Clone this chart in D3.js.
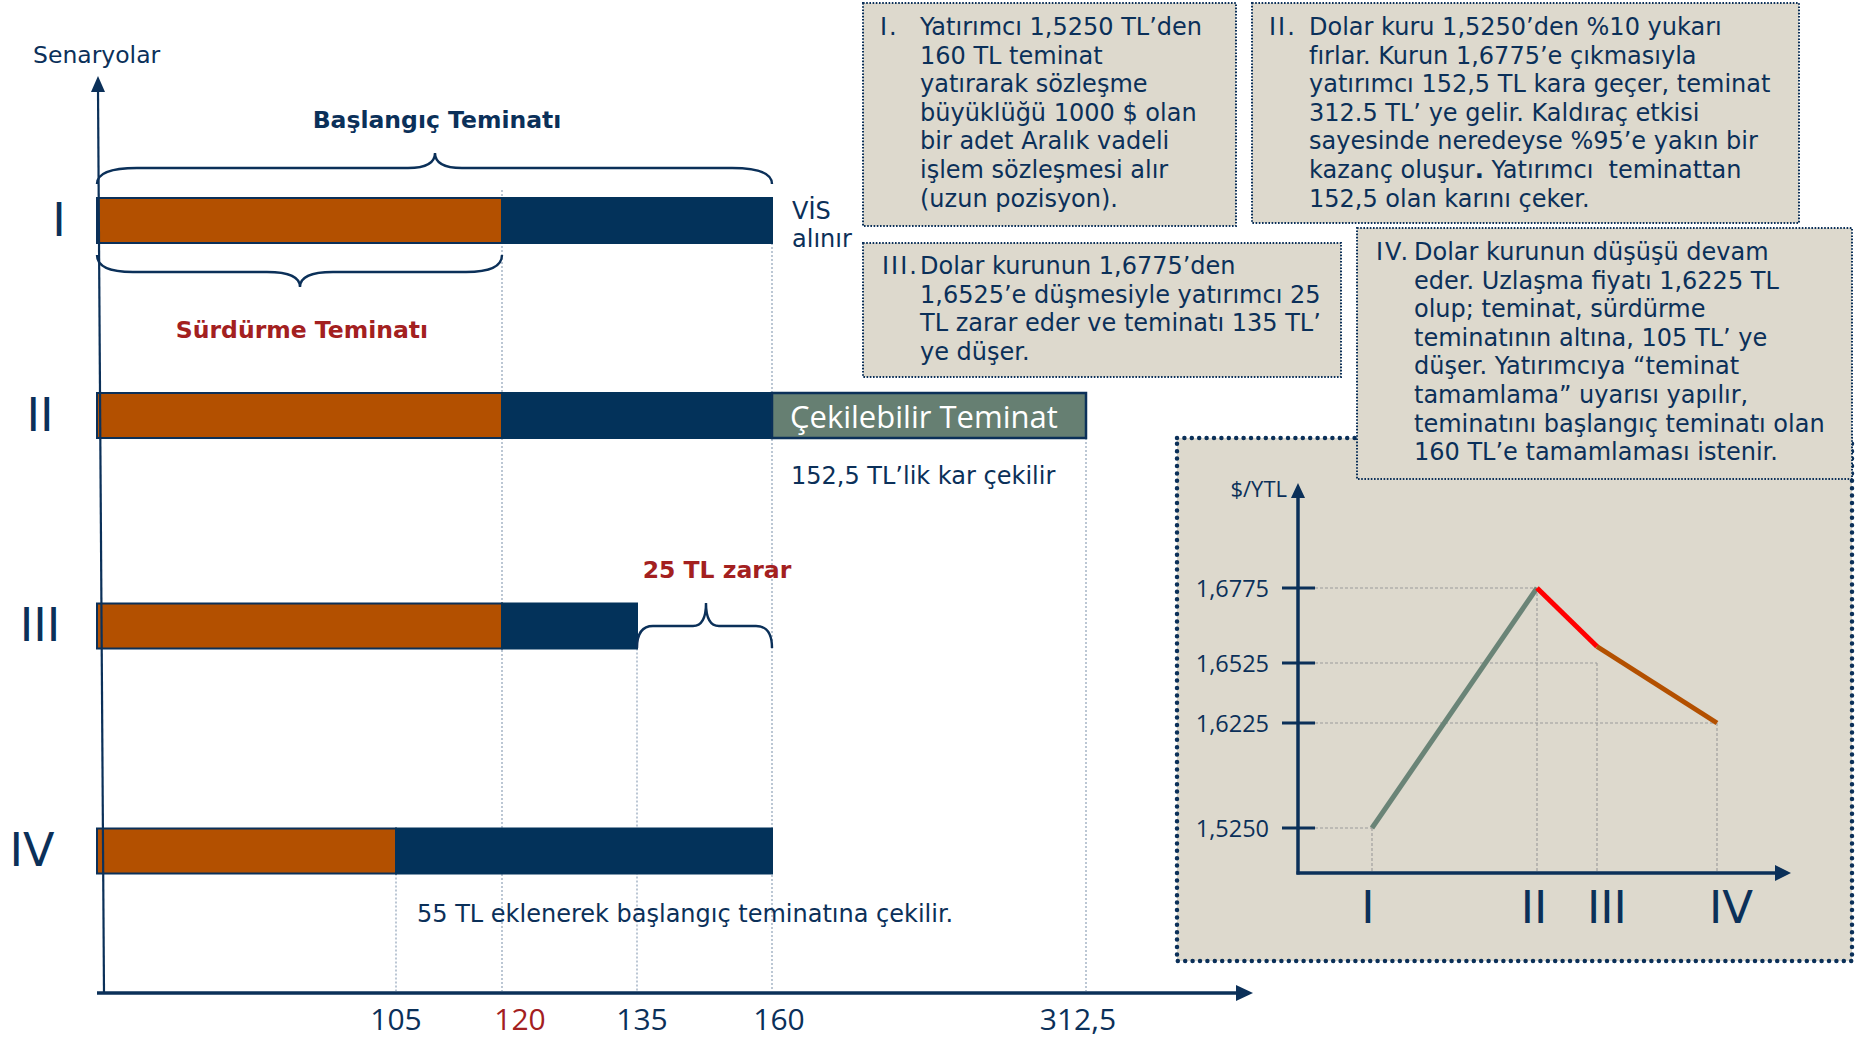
<!DOCTYPE html>
<html><head><meta charset="utf-8">
<script src="https://cdn.jsdelivr.net/npm/d3@7"></script>
<style>
html,body{margin:0;padding:0;background:#fff;}
svg{display:block;}
text{white-space:pre;}
</style></head><body>
<svg id="c" width="1860" height="1040"></svg>
<script>
// ================= DATA =================
// Main chart: margin scenarios (TL)
const scenarios = ["I", "II", "III", "IV"];
const surdurmeEnd = [120, 120, 120, 105];        // orange part (maintenance margin)
const teminatEnd = [160, 160, 135, 160];         // navy part ends here (account balance)
const cekilebilirEnd = [null, 312.5, null, null]; // withdrawable margin part
const xTicks = [105, 120, 135, 160, 312.5];
const xTickLabels = ["105", "120", "135", "160", "312,5"];
const baslangicRange = [0, 160];
const surdurmeRange = [0, 120];
const zararRange = [135, 160];

// Inset chart: $/YTL rate by scenario
const rateLabels = ["I", "II", "III", "IV"];
const rateValues = [1.5250, 1.6775, 1.6580, 1.6225];
const rateGuideValues = [1.5250, 1.6775, 1.6525, 1.6225];
const rateTicks = [1.5250, 1.6225, 1.6525, 1.6775];
const rateTickLabels = ["1,5250", "1,6225", "1,6525", "1,6775"];

// Text boxes
const box1Lines = ["Yatırımcı 1,5250 TL’den", "160 TL teminat", "yatırarak sözleşme", "büyüklüğü 1000 $ olan", "bir adet Aralık vadeli", "işlem sözleşmesi alır", "(uzun pozisyon)."];
const box2Lines = ["Dolar kuru 1,5250’den %10 yukarı", "fırlar. Kurun 1,6775’e çıkmasıyla", "yatırımcı 152,5 TL kara geçer, teminat", "312.5 TL’ ye gelir. Kaldıraç etkisi", "sayesinde neredeyse %95’e yakın bir", "kazanç oluşur*.* Yatırımcı  teminattan", "152,5 olan karını çeker."];
const box3Lines = ["Dolar kurunun 1,6775’den", "1,6525’e düşmesiyle yatırımcı 25", "TL zarar eder ve teminatı 135 TL’", "ye düşer."];
const box4Lines = ["Dolar kurunun düşüşü devam", "eder. Uzlaşma fiyatı 1,6225 TL", "olup; teminat, sürdürme", "teminatının altına, 105 TL’ ye", "düşer. Yatırımcıya “teminat", "tamamlama” uyarısı yapılır,", "teminatını başlangıç teminatı olan", "160 TL’e tamamlaması istenir."];

// ================= LAYOUT / STYLE =================
const NAVY = "#0B3059", BARNAVY = "#03325A", ORANGE = "#B35000", GREEN = "#667F72",
      DARKRED = "#A3201F", BEIGE = "#DDD9CD", GUIDE = "#8FA2B8";
const VFONT = "'DejaVu Sans', Verdana, sans-serif";
const CFONT = "'Open Sans', 'Noto Sans', sans-serif";

const svg = d3.select("#c");

const x = d3.scaleLinear().domain([0, ...xTicks]).range([97, 396, 502, 637, 772, 1086]);
const yC = d3.scaleOrdinal().domain(scenarios).range([220.5, 415.5, 626, 851]);
const barH = 45;
const scenLabelX = {I: 59, II: 40, III: 40, IV: 32};
const tickDx = [0, 18, 5, 7, -8];
const guideStart = [
  yC("IV") + barH / 2, 190, yC("III") + barH / 2, yC("I") + barH / 2, yC("II") + barH / 2
];
const axisY = 993;

// ---------- main guides ----------
const gMain = svg.append("g");
gMain.selectAll("line.guide").data(xTicks).join("line")
  .attr("x1", d => x(d)).attr("x2", d => x(d))
  .attr("y1", (d, i) => guideStart[i]).attr("y2", axisY - 2)
  .attr("stroke", GUIDE).attr("stroke-width", 1.2).attr("stroke-dasharray", "2 2");

// ---------- bars ----------
const bars = scenarios.map((s, i) => ({s, a: surdurmeEnd[i], b: teminatEnd[i], c: cekilebilirEnd[i]}));
const barG = gMain.selectAll("g.bar").data(bars).join("g");
barG.append("rect")
  .attr("x", d => x(0)).attr("y", d => yC(d.s) - barH / 2)
  .attr("width", d => x(d.a) - x(0)).attr("height", barH)
  .attr("fill", ORANGE).attr("stroke", NAVY).attr("stroke-width", 2);
barG.append("rect")
  .attr("x", d => x(d.a)).attr("y", d => yC(d.s) - barH / 2)
  .attr("width", d => x(d.b) - x(d.a)).attr("height", barH)
  .attr("fill", BARNAVY).attr("stroke", BARNAVY).attr("stroke-width", 2);
barG.filter(d => d.c != null).append("rect")
  .attr("x", d => x(d.b)).attr("y", d => yC(d.s) - barH / 2)
  .attr("width", d => x(d.c) - x(d.b)).attr("height", barH)
  .attr("fill", GREEN).attr("stroke", NAVY).attr("stroke-width", 2.5);
barG.filter(d => d.c != null).append("text")
  .attr("x", d => x(d.b) + 18).attr("y", d => yC(d.s) + 12)
  .attr("font-family", CFONT).attr("font-size", 31).attr("fill", "#fff")
  .text("Çekilebilir Teminat");

// ---------- main axes ----------
gMain.append("line").attr("x1", 98).attr("y1", 90).attr("x2", 104).attr("y2", axisY)
  .attr("stroke", NAVY).attr("stroke-width", 2.2);
gMain.append("path").attr("d", "M91,92 L98,76 L105,92 Z").attr("fill", NAVY);
gMain.append("line").attr("x1", x(0)).attr("y1", axisY).attr("x2", 1238).attr("y2", axisY)
  .attr("stroke", NAVY).attr("stroke-width", 3.5);
gMain.append("path").attr("d", `M1236,${axisY - 8} L1253,${axisY} L1236,${axisY + 8} Z`).attr("fill", NAVY);

gMain.selectAll("text.tick").data(xTicks).join("text")
  .attr("x", (d, i) => x(d) + tickDx[i]).attr("y", 1030)
  .attr("text-anchor", "middle").attr("font-family", CFONT).attr("font-size", 30)
  .attr("fill", (d, i) => d === 120 ? DARKRED : NAVY)
  .text((d, i) => xTickLabels[i]);

gMain.selectAll("text.scen").data(scenarios).join("text")
  .attr("x", d => scenLabelX[d]).attr("y", d => yC(d) + 15)
  .attr("text-anchor", "middle").attr("font-family", VFONT).attr("font-size", 46)
  .attr("fill", NAVY).text(d => d);

gMain.append("text").attr("x", 33).attr("y", 63).attr("font-family", VFONT)
  .attr("font-size", 23.5).attr("fill", NAVY).text("Senaryolar");

// ---------- braces ----------
function brace(x1, x2, yEnd, yLine, yTip, xTip, r, rt) {
  return `M${x1},${yEnd} Q${x1},${yLine} ${x1 + r},${yLine} L${xTip - rt},${yLine} ` +
         `Q${xTip},${yLine} ${xTip},${yTip} Q${xTip},${yLine} ${xTip + rt},${yLine} ` +
         `L${x2 - r},${yLine} Q${x2},${yLine} ${x2},${yEnd}`;
}
const braceStyle = sel => sel.attr("fill", "none").attr("stroke", NAVY).attr("stroke-width", 2.4);
gMain.append("path").attr("d", brace(x(baslangicRange[0]), x(baslangicRange[1]), 184, 168, 153, 435, 40, 27)).call(braceStyle);
gMain.append("path").attr("d", brace(x(surdurmeRange[0]), x(surdurmeRange[1]), 255, 272, 287, 300, 36, 33)).call(braceStyle);
gMain.append("path").attr("d", brace(x(zararRange[0]), x(zararRange[1]), 648, 626, 603, 706, 16, 13)).call(braceStyle);

gMain.append("text").attr("x", 437).attr("y", 128).attr("text-anchor", "middle")
  .attr("font-family", VFONT).attr("font-weight", "bold").attr("font-size", 23.5)
  .attr("fill", NAVY).text("Başlangıç Teminatı");
gMain.append("text").attr("x", 302).attr("y", 338).attr("text-anchor", "middle")
  .attr("font-family", VFONT).attr("font-weight", "bold").attr("font-size", 23.5)
  .attr("fill", DARKRED).text("Sürdürme Teminatı");
gMain.append("text").attr("x", 717).attr("y", 578).attr("text-anchor", "middle")
  .attr("font-family", VFONT).attr("font-weight", "bold").attr("font-size", 23.5)
  .attr("fill", DARKRED).text("25 TL zarar");

const plain = (t, px, py) => gMain.append("text").attr("x", px).attr("y", py)
  .attr("font-family", VFONT).attr("font-size", 24).attr("fill", NAVY).text(t);
plain("VİS", x(160) + 20, 219);
plain("alınır", x(160) + 20, 247);
plain("152,5 TL’lik kar çekilir", x(160) + 19, 484);
plain("55 TL eklenerek başlangıç teminatına çekilir.", 417, 922);

// ---------- text boxes ----------
function textBox(b) {
  const g = svg.append("g");
  g.append("rect").attr("x", b.x).attr("y", b.y).attr("width", b.w).attr("height", b.h)
    .attr("fill", BEIGE).attr("stroke", NAVY).attr("stroke-width", 2).attr("stroke-dasharray", "1.6 1.6");
  g.append("text").attr("x", b.numX).attr("y", b.base).attr("font-family", VFONT)
    .attr("font-size", 24).attr("letter-spacing", 2).attr("fill", NAVY).text(b.num);
  b.lines.forEach((ln, i) => {
    const t = g.append("text").attr("x", b.textX).attr("y", b.base + i * 28.6)
      .attr("font-family", VFONT).attr("font-size", 24).attr("fill", NAVY);
    ln.split(/(\*[^*]+\*)/).filter(s => s.length).forEach(seg => {
      if (seg.startsWith("*")) t.append("tspan").attr("font-weight", "bold").text(seg.slice(1, -1));
      else t.append("tspan").text(seg);
    });
  });
}
textBox({x: 863, y: 3, w: 373, h: 223, num: "I.", numX: 880, textX: 920, base: 35, lines: box1Lines});
textBox({x: 1252, y: 3, w: 547, h: 220, num: "II.", numX: 1269, textX: 1309, base: 35, lines: box2Lines});
textBox({x: 863, y: 243, w: 478, h: 134, num: "III.", numX: 882, textX: 920, base: 274, lines: box3Lines});

// ---------- inset chart ----------
const gI = svg.append("g");
gI.append("rect").attr("x", 1177).attr("y", 438).attr("width", 675).attr("height", 523)
  .attr("fill", BEIGE).attr("stroke", NAVY).attr("stroke-width", 4.5)
  .attr("stroke-dasharray", "0 7.4").attr("stroke-linecap", "round");

const rx = d3.scaleOrdinal().domain(rateLabels).range([1372, 1537, 1597, 1717]);
const ry = d3.scaleLinear().domain(rateTicks).range([828, 723, 663, 588]);
const iAxisX = 1298, iAxisY = 873;
const labelDx = [-4, -3, 10, 14];

// guides
rateLabels.forEach((l, i) => {
  gI.append("line").attr("x1", 1315).attr("x2", rx(l))
    .attr("y1", ry(rateGuideValues[i])).attr("y2", ry(rateGuideValues[i]))
    .attr("stroke", "#9B9B9B").attr("stroke-width", 1.1).attr("stroke-dasharray", "3 2");
  gI.append("line").attr("x1", rx(l)).attr("x2", rx(l))
    .attr("y1", ry(rateGuideValues[i])).attr("y2", iAxisY - 2)
    .attr("stroke", "#9B9B9B").attr("stroke-width", 1.1).attr("stroke-dasharray", "3 2");
});

// axes
gI.append("line").attr("x1", iAxisX).attr("x2", iAxisX).attr("y1", iAxisY + 1.5).attr("y2", 496)
  .attr("stroke", NAVY).attr("stroke-width", 3.5);
gI.append("path").attr("d", `M${iAxisX - 7},498 L${iAxisX},483 L${iAxisX + 7},498 Z`).attr("fill", NAVY);
gI.append("line").attr("x1", iAxisX - 1.5).attr("x2", 1777).attr("y1", iAxisY).attr("y2", iAxisY)
  .attr("stroke", NAVY).attr("stroke-width", 3.5);
gI.append("path").attr("d", `M1775,${iAxisY - 8} L1791,${iAxisY} L1775,${iAxisY + 8} Z`).attr("fill", NAVY);

gI.selectAll("line.itick").data(rateTicks).join("line")
  .attr("x1", 1282).attr("x2", 1315).attr("y1", d => ry(d)).attr("y2", d => ry(d))
  .attr("stroke", NAVY).attr("stroke-width", 3);
gI.selectAll("text.itick").data(rateTicks).join("text")
  .attr("x", 1269).attr("y", d => ry(d) + 8.5).attr("text-anchor", "end")
  .attr("font-family", CFONT).attr("font-size", 23.5).attr("fill", NAVY)
  .text((d, i) => rateTickLabels[i]);
gI.append("text").attr("x", 1287).attr("y", 497).attr("text-anchor", "end")
  .attr("font-family", CFONT).attr("font-size", 22).attr("fill", NAVY).text("$/YTL");

// rate line segments
const segColors = ["#6A8477", "#FF0000", "#B35000"];
const pts = rateLabels.map((l, i) => [rx(l), ry(rateValues[i])]);
gI.selectAll("path.seg").data(d3.pairs(pts)).join("path")
  .attr("d", d => d3.line()(d)).attr("fill", "none")
  .attr("stroke", (d, i) => segColors[i]).attr("stroke-width", 5);

gI.selectAll("text.ilab").data(rateLabels).join("text")
  .attr("x", (d, i) => rx(d) + labelDx[i]).attr("y", 923).attr("text-anchor", "middle")
  .attr("font-family", VFONT).attr("font-size", 45).attr("fill", NAVY).text(d => d);

// box IV on top of the inset
textBox({x: 1357, y: 228, w: 495, h: 251, num: "IV.", numX: 1376, textX: 1414, base: 260, lines: box4Lines});
</script>
</body></html>
